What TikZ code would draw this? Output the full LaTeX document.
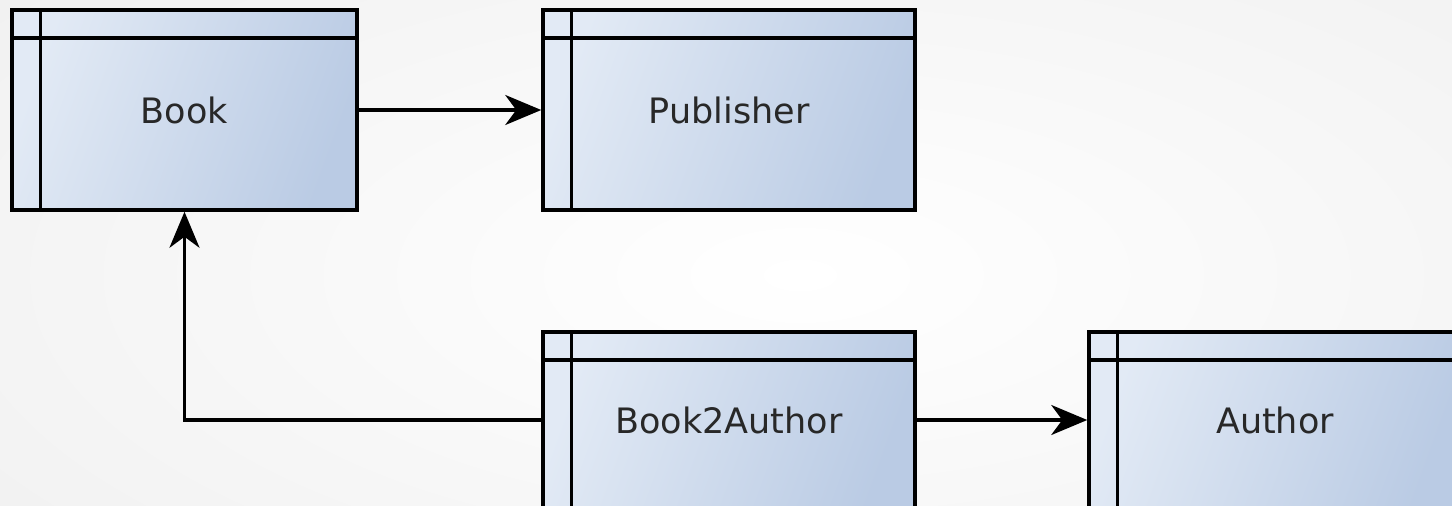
\documentclass[tikz,border=0pt]{standalone}
\usepackage{fontspec}
\setmainfont{DejaVu Sans}
\usetikzlibrary{arrows.meta}
\definecolor{boxlight}{RGB}{226,234,245}
\definecolor{boxdark}{RGB}{186,203,228}
\definecolor{labelgray}{RGB}{40,40,40}
\definecolor{bgedge}{RGB}{240,240,240}
\tikzset{
  entity/.style={draw=black, line width=3.5pt, rectangle,
    left color=boxlight, right color=boxdark, shading angle=70,
    minimum width=372pt, minimum height=200pt, inner sep=0pt,
    font=\fontsize{35}{40}\selectfont, text=labelgray},
  link/.style={line width=3.5pt, -{Stealth[length=36pt, width=30pt, inset=11pt]}},
  divider/.style={line width=3.5pt}
}
% entity box with a header strip and a left key column
\newcommand{\entitylines}[1]{%
  \draw[divider] ([yshift=-29.5pt]#1.north west) -- ([yshift=-29.5pt]#1.north east);
  \draw[divider] ([xshift=30pt]#1.north west) -- ([xshift=30pt]#1.south west);
}
\begin{document}
\begin{tikzpicture}[x=1pt, y=-1pt]
  \useasboundingbox (0,0) rectangle (1452,506);
  \shade[inner color=white, outer color=bgedge] (-300,-200) rectangle (1900,750);
  \begin{scope}
    \clip (0,0) rectangle (1452,506);
    \node[entity, minimum width=345pt] (book) at (184.5,110) {Book};
    \node[entity] (pub) at (729,110) {Publisher};
    \node[entity, minimum height=176pt] (b2a) at (729,420) {Book2Author};
    \node[entity, minimum height=176pt] (author) at (1275,420) {Author};
    \entitylines{book}
    \entitylines{pub}
    \entitylines{b2a}
    \entitylines{author}
    \draw[link] (book.east) -- (pub.west);
    \draw[link] (b2a.west) -| (book.south);
    \draw[link] (b2a.east) -- (author.west);
  \end{scope}
\end{tikzpicture}
\end{document}
